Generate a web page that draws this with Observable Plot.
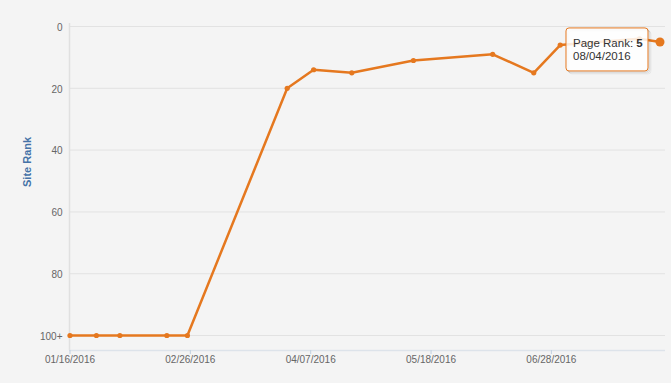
<!DOCTYPE html>
<html>
<head>
<meta charset="utf-8">
<script src="https://cdn.jsdelivr.net/npm/d3@7"></script>
<script src="https://cdn.jsdelivr.net/npm/@observablehq/plot@0.6"></script>
<style>
  html, body { margin: 0; padding: 0; background: #f4f4f4; }
  #chart svg { display: block; }
</style>
</head>
<body>
<div id="chart"></div>
<script>
// ---- data ----
const dates = ["2016-01-16","2016-01-25","2016-02-02","2016-02-18","2016-02-25","2016-03-30","2016-04-08","2016-04-21","2016-05-12","2016-06-08","2016-06-22","2016-07-01","2016-07-28","2016-08-04"];
const ranks = [100,100,100,100,100,20,14,15,11,9,15,6,4,5];
const xTickLabels = ["2016-01-16","2016-02-26","2016-04-07","2016-05-18","2016-06-28"];
const yTickValues = [0,20,40,60,80,100];
const yTitle = "Site Rank";
const tooltipLabel = "Page Rank: ";
const highlightIndex = 13;

const parse = d3.utcParse("%Y-%m-%d");
const fmt = d3.utcFormat("%m/%d/%Y");
const data = dates.map((d, i) => ({date: parse(d), rank: ranks[i]}));
const xTicks = xTickLabels.map(parse);

const hour = 3600 * 1000;
const xDomain = [new Date(parse(dates[0]).getTime() - 4 * hour), new Date(parse("2016-08-05").getTime() + 21 * hour)];
const yDomain = [-0.97, 104.85];

const orange = "#e5781f";
const font = "'Liberation Sans', Arial, Helvetica, sans-serif";

const chart = Plot.plot({
  width: 671,
  height: 383,
  marginLeft: 69,
  marginRight: 6,
  marginTop: 23,
  marginBottom: 33,
  style: {background: "#f4f4f4", fontFamily: font, fontSize: "10px", color: "#666"},
  x: {type: "utc", domain: xDomain},
  y: {domain: yDomain, reverse: true},
  marks: [
    Plot.ruleY(yTickValues, {stroke: "#e2e2e2", strokeWidth: 1}),
    Plot.ruleX([xDomain[0]], {stroke: "#e0e0e0", strokeWidth: 1.5}),
    Plot.ruleY([yDomain[1]], {stroke: "#dde3ea", strokeWidth: 1.5}),
    Plot.axisY({ticks: yTickValues, tickSize: 0, tickPadding: 7, dy: 1,
      tickFormat: d => d === 100 ? "100+" : String(d), fill: "#666", label: null}),
    Plot.axisX({ticks: xTicks, tickSize: 4, tickPadding: 1, stroke: "#c0d0e0",
      fill: "#666", tickFormat: d => fmt(d), label: null}),
    Plot.line(data, {x: "date", y: "rank", stroke: orange, strokeWidth: 2.5, strokeLinejoin: "round"}),
    Plot.dot(data, {x: "date", y: "rank", r: 2.6, fill: orange, stroke: "none"}),
    Plot.dot([data[highlightIndex]], {x: "date", y: "rank", r: 4.5, fill: orange, stroke: "none"}),
    Plot.text([yTitle], {frameAnchor: "left", dx: -42, rotate: -90, fill: "#4572a7",
      fontWeight: "bold", fontSize: 11})
  ]
});
document.getElementById("chart").appendChild(chart);

// tooltip anchored to highlighted point
const xs = chart.scale("x"), ys = chart.scale("y");
const hp = data[highlightIndex];
const px = xs.apply(hp.date), py = ys.apply(hp.rank);
const svg = d3.select(chart);
const bw = 82, bh = 43;
const bx = px - 93.5, by = py - 13.5;
const g = svg.append("g").attr("text-anchor", "start");
[[3, 0.05], [2, 0.08], [1, 0.12]].forEach(([o, a]) => {
  g.append("rect").attr("x", bx + o).attr("y", by + o).attr("width", bw).attr("height", bh)
    .attr("rx", 3).attr("fill", "none").attr("stroke", `rgba(0,0,0,${a})`).attr("stroke-width", 1);
});
g.append("rect").attr("x", bx).attr("y", by).attr("width", bw).attr("height", bh)
  .attr("rx", 3).attr("fill", "rgba(255,255,255,0.85)").attr("stroke", orange).attr("stroke-width", 1);
const t1 = g.append("text").attr("x", bx + 7).attr("y", by + 19.5).attr("text-anchor", "start")
  .attr("font-family", font).attr("font-size", 11.5).attr("fill", "#333");
t1.append("tspan").text(tooltipLabel);
t1.append("tspan").attr("font-weight", "bold").text(String(hp.rank));
g.append("text").attr("x", bx + 7).attr("y", by + 32.5).attr("text-anchor", "start")
  .attr("font-family", font).attr("font-size", 11.5).attr("fill", "#333").text(fmt(hp.date));
</script>
</body>
</html>
